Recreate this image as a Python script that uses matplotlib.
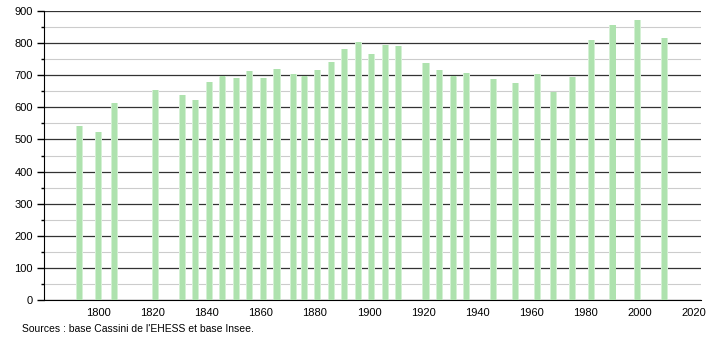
import matplotlib.pyplot as plt
from matplotlib.ticker import MultipleLocator

years = [1793, 1800, 1806, 1821, 1831, 1836, 1841, 1846, 1851, 1856,
         1861, 1866, 1872, 1876, 1881, 1886, 1891, 1896, 1901, 1906,
         1911, 1921, 1926, 1931, 1936, 1946, 1954, 1962, 1968, 1975,
         1982, 1990, 1999, 2009]
population = [541, 524, 613, 653, 638, 624, 679, 699, 692, 712,
              691, 719, 703, 699, 715, 740, 783, 803, 765, 793,
              790, 738, 715, 699, 706, 688, 675, 703, 648, 694,
              809, 855, 871, 815]
source_text = "Sources : base Cassini de l'EHESS et base Insee."

plt.rcParams["font.family"] = ["Liberation Sans", "DejaVu Sans"]

fig = plt.figure(figsize=(7.1, 3.4), dpi=100)
ax = fig.add_axes([44 / 710, 40 / 340, 657 / 710, 289 / 340])

# soft edge first, then the solid core of each bar
ax.bar(years, population, width=2.6, color="#d4f0d4", zorder=2)
ax.bar(years, population, width=1.9, color="#aee2ae", zorder=3)

ax.set_xlim(1780, 2022.5)
ax.set_ylim(0, 900)
ax.yaxis.set_major_locator(MultipleLocator(100))
ax.yaxis.set_minor_locator(MultipleLocator(50))
ax.xaxis.set_major_locator(MultipleLocator(20))
ax.set_xticks(range(1800, 2021, 20))

ax.grid(axis="y", which="major", color="#333333", linewidth=0.9, zorder=1)
ax.grid(axis="y", which="minor", color="#cccccc", linewidth=0.8, zorder=1)
ax.set_axisbelow(True)

for side in ["top", "right"]:
    ax.spines[side].set_visible(False)
ax.spines["left"].set_color("black")
ax.spines["bottom"].set_color("black")

ax.tick_params(axis="y", which="major", length=5, width=1, labelsize=8, pad=3)
ax.tick_params(axis="y", which="minor", length=2.5, width=1)
ax.tick_params(axis="x", length=0, labelsize=8, pad=6)

fig.text(22 / 710, 1 - 329 / 340, source_text, fontsize=7.5, va="center", ha="left")

fig.savefig("out.png", dpi=100)
